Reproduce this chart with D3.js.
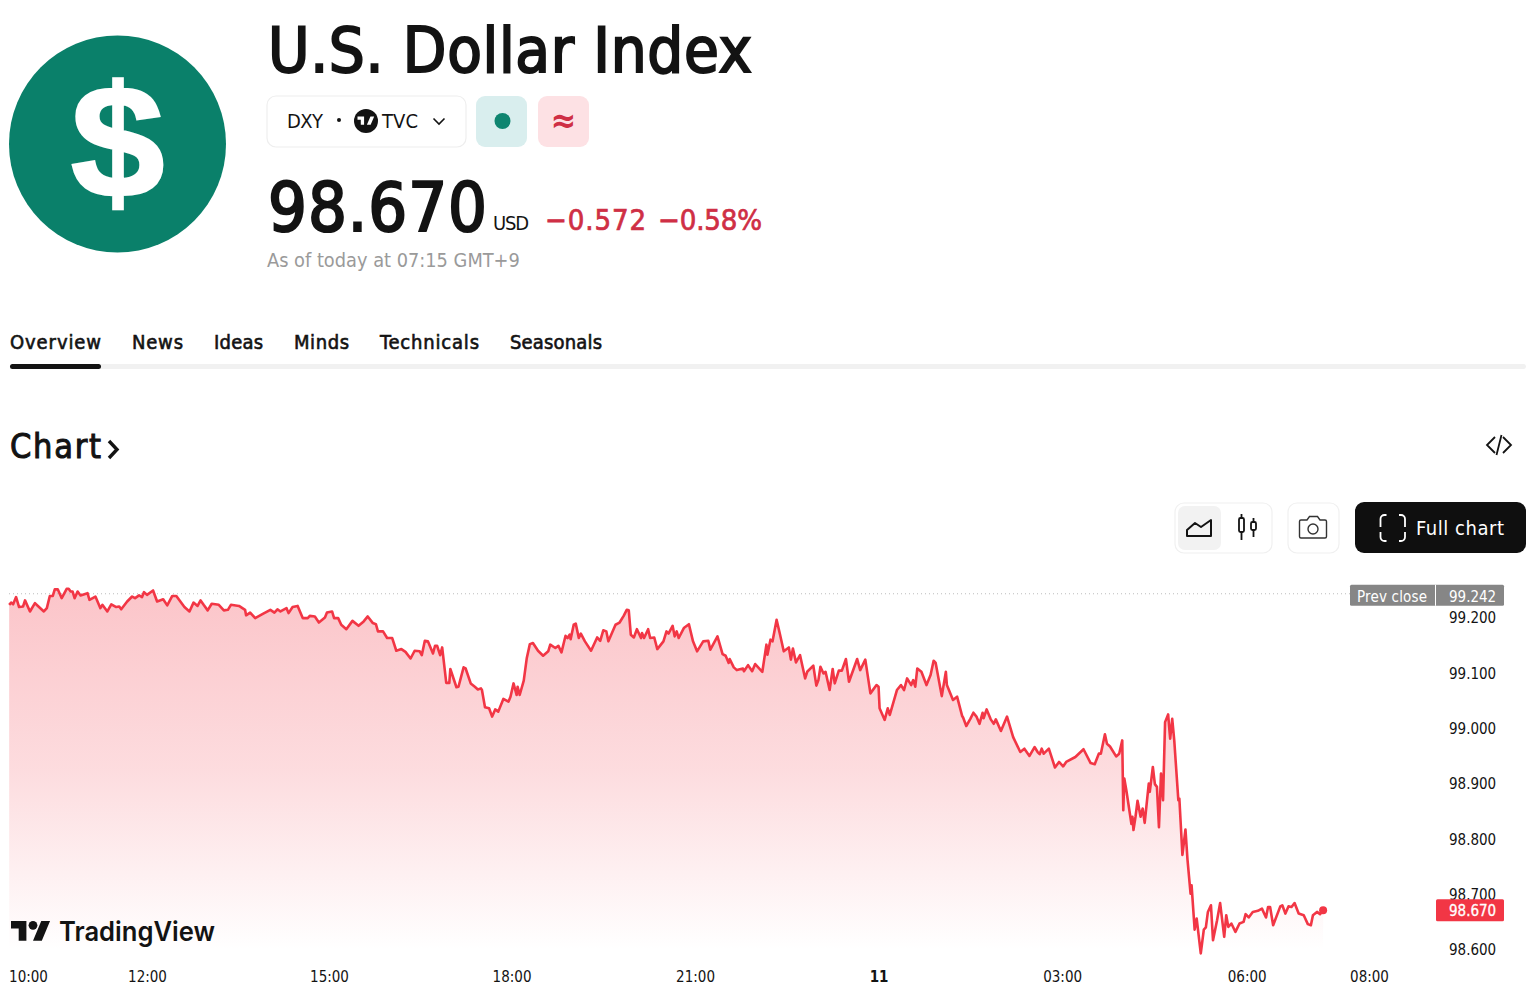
<!DOCTYPE html>
<html>
<head>
<meta charset="utf-8">
<script src="https://d3js.org/d3.v7.min.js"></script>
<style>
html, body { margin: 0; background: #fff; }
svg { display: block; }
text { font-family: "DejaVu Sans Condensed", "DejaVu Sans", sans-serif; font-stretch: condensed; }
</style>
</head>
<body>
<svg width="1536" height="1000"></svg>
<script>
// minutes after 10:00
const minutes = [-19,-17,-15,-12,-9,-5,-3,2,7,10,16,19,22,25,27,30,34,39,41,43,45,47,50,53,60,62,68,73,75,80,84,89,92,94,100,105,108,112,115,117,120,126,130,136,140,145,149,157,162,166,170,173,176,180,184,191,196,200,203,211,217,218,222,227,235,242,246,249,252,258,260,264,269,274,279,281,286,290,296,298,303,305,309,312,317,323,329,334,338,343,346,348,353,357,362,366,371,375,380,384,389,391,394,397,402,404,406,409,411,415,418,419,425,427,432,434,439,443,446,449,
450,453,457,460,463,466,471,476,478,481,484,485,487,491,494,497,500,505,510,515,517,522,525,528,532,534,536,537,540,542,545,547,551,557,563,566,569,572,574,581,585,589,592,594,596,599,602,606,607,609,613,615,619,622,628,631,633,637,639,641,643,648,653,657,661,667,672,674,681,686,689,692,693,697,700,706,707,711,715,718,725,729,730,733,735,739,742,746,751,753,755,758,762,767,769,775,778,780,782,785,787,791,794,796,800,803,807,810,818,821,826,831,837,839,840,845,848,850,857,861,864,867,871,873,875,877,881,886,890,893,895,901,905,906,912,916,921,
922,925,929,932,935,938,941,942,945,949,952,954,959,965,971,978,982,987,992,995,997,999,1001,1006,1012,1016,1020,1023,1032,1040,1047,1051,1055,1057,1061,1063,1066,1072,1075,1078,1079,1080,1082,1087,1088,1089,1091,1093,1096,1098,1100,1104,1105,1108,1110,1112,1114,1116,1118,1120,1123,1124,1125,1127,1129,1133,1134,1137,1140,1142,1145,1146,1149,1151,1155,1158,1160,1162,1165,1167,1171,1174,1178,1180,1182,1185,1189,1193,1197,1199,1202,1206,1211,1215,1219,1221,1223,1226,1233,1235,1238,1241,1244,1247,1251,1256,1260,1263,1265,1269,1272,1275]
const prices = [99.222,99.226,99.223,99.236,99.218,99.219,99.230,99.210,99.225,99.220,99.210,99.216,99.238,99.238,99.250,99.250,99.234,99.251,99.251,99.246,99.246,99.234,99.246,99.239,99.243,99.231,99.237,99.216,99.222,99.210,99.223,99.218,99.219,99.214,99.228,99.237,99.234,99.239,99.236,99.245,99.240,99.248,99.228,99.232,99.221,99.238,99.238,99.218,99.210,99.226,99.220,99.230,99.222,99.212,99.224,99.222,99.212,99.213,99.222,99.220,99.213,99.203,99.208,99.198,99.206,99.213,99.208,99.214,99.210,99.216,99.207,99.218,99.220,99.198,99.198,99.202,99.201,99.190,99.199,99.208,99.210,99.198,99.198,99.186,99.178,99.193,99.184,99.192,99.201,99.189,99.187,99.174,99.174,99.162,99.162,99.139,99.142,99.137,99.125,99.139,99.138,99.131,99.157,99.156,99.134,99.148,99.148,99.131,99.145,99.081,99.081,99.106,99.073,99.074,99.109,99.107,99.080,99.074,99.069,99.071,
99.068,99.037,99.035,99.020,99.033,99.029,99.052,99.047,99.056,99.080,99.059,99.074,99.059,99.085,99.126,99.151,99.153,99.139,99.130,99.138,99.150,99.144,99.148,99.136,99.166,99.162,99.168,99.160,99.186,99.188,99.162,99.170,99.156,99.139,99.163,99.157,99.176,99.174,99.156,99.186,99.190,99.202,99.213,99.212,99.168,99.163,99.178,99.162,99.171,99.162,99.178,99.162,99.163,99.142,99.156,99.174,99.170,99.184,99.165,99.174,99.162,99.180,99.187,99.156,99.138,99.156,99.157,99.141,99.165,99.133,99.130,99.117,99.124,99.109,99.104,99.107,99.102,99.113,99.102,99.115,99.101,99.150,99.132,99.159,99.156,99.195,99.171,99.138,99.145,99.123,99.143,99.118,99.131,99.089,99.101,99.112,99.076,99.086,99.110,99.098,99.101,99.068,99.106,99.080,99.103,99.103,99.124,99.083,99.124,99.104,99.123,99.062,99.077,99.074,99.035,99.014,99.035,99.023,99.068,99.077,99.068,99.089,99.077,99.086,99.074,99.107,99.101,99.077,99.095,99.121,99.117,99.057,99.101,99.077,99.050,99.056,99.021,
99.018,99.003,99.016,99.027,99.020,99.007,99.027,99.017,99.033,99.015,99.007,99.015,98.994,99.020,98.983,98.956,98.962,98.949,98.965,98.956,98.952,98.962,98.953,98.962,98.928,98.938,98.930,98.938,98.947,98.961,98.936,98.934,98.953,98.953,98.988,98.971,98.966,98.948,98.953,98.977,98.851,98.908,98.887,98.826,98.839,98.815,98.839,98.868,98.839,98.854,98.828,98.899,98.884,98.929,98.898,98.893,98.820,98.917,98.869,99.010,99.024,99.001,98.980,99.016,98.977,98.869,98.872,98.770,98.816,98.761,98.700,98.715,98.635,98.655,98.592,98.635,98.639,98.667,98.679,98.616,98.652,98.683,98.622,98.661,98.640,98.646,98.631,98.646,98.649,98.663,98.657,98.667,98.669,98.673,98.657,98.676,98.676,98.643,98.677,98.679,98.664,98.677,98.676,98.683,98.664,98.661,98.645,98.643,98.661,98.667,98.663,98.670]

const priceTicks = [98.6, 98.7, 98.8, 98.9, 99.0, 99.1, 99.2]
const timeTicks = [0, 120, 300, 480, 660, 840, 1020, 1200, 1320]
const timeLabels = ["10:00", "12:00", "15:00", "18:00", "21:00", "11", "03:00", "06:00", "08:00"]
const prevClose = 99.242
const lastPrice = 98.670
const tabs = ["Overview", "News", "Ideas", "Minds", "Technicals", "Seasonals"]
const tabX = [10, 132, 214, 294, 380, 510]
const tabWidth = [91, 51, 49, 55, 99, 92]

const lineRed = "#f23645"
const textRed = "#cf2f45"
const ink = "#131313"

const svg = d3.select("svg")

const x = d3.scaleLinear().domain([0, 120, 300, 1320]).range([28, 147, 329, 1369])
const y = d3.scaleLinear().domain([98.6, 99.2]).range([949, 617])
const points = minutes.map(function (m, i) { return [m, prices[i]] })

function label(txt, px, py, size, color, weight, anchor) {
    return svg.append("text").attr("x", px).attr("y", py).text(txt)
        .attr("font-size", size).attr("fill", color)
        .attr("font-weight", weight || 400)
        .attr("text-anchor", anchor || "start")
}

// ---- header ----
svg.append("circle").attr("cx", 117.5).attr("cy", 144).attr("r", 108.5).attr("fill", "#0a806a")
svg.append("text").attr("transform", "translate(117.5,197) scale(1.06,1)").text("$")
    .attr("text-anchor", "middle").attr("font-size", 159).attr("fill", "#fff")
    .attr("stroke", "#fff").attr("stroke-width", 2.5)
    .attr("font-weight", 700).style("font-family", "'Liberation Sans'").style("font-stretch", "normal")

label("U.S. Dollar Index", 268, 72, 63, ink).attr("stroke", ink).attr("stroke-width", 2)
    .attr("textLength", 484)

svg.append("rect").attr("x", 267).attr("y", 96).attr("width", 199).attr("height", 51).attr("rx", 9)
    .attr("fill", "#fff").attr("stroke", "#eeeeee").attr("stroke-width", 1.2)
label("DXY", 287, 128, 20, ink).attr("textLength", 36)
svg.append("circle").attr("cx", 339).attr("cy", 120).attr("r", 2).attr("fill", ink)
svg.append("circle").attr("cx", 366).attr("cy", 121).attr("r", 12).attr("fill", ink)
svg.append("g").attr("transform", "translate(357.5,114.5) scale(0.47)")
    .append("path").attr("d", "M14 22H7V11H0V4h14v18zM28 22h-8l7.5-18h8L28 22z").attr("fill", "#fff")
label("TVC", 382, 128, 20, ink).attr("textLength", 36)
svg.append("path").attr("d", "M433.5 118.5l5.5 5.5 5.5-5.5").attr("fill", "none").attr("stroke", ink).attr("stroke-width", 1.6)

svg.append("rect").attr("x", 476).attr("y", 96).attr("width", 51).attr("height", 51).attr("rx", 9).attr("fill", "#d9eeee")
svg.append("circle").attr("cx", 502.5).attr("cy", 121).attr("r", 8).attr("fill", "#0f8570")
svg.append("rect").attr("x", 538).attr("y", 96).attr("width", 51).attr("height", 51).attr("rx", 9).attr("fill", "#fde1e4")
label("≈", 563.5, 132, 34, textRed, 700, "middle")

label("98.670", 268, 231, 68, ink).attr("stroke", ink).attr("stroke-width", 2.2).attr("textLength", 219)
label("USD", 493, 230, 20, ink).attr("textLength", 36)
label("−0.572", 545, 230, 29, textRed).attr("stroke", textRed).attr("stroke-width", 0.7).attr("textLength", 101)
label("−0.58%", 658, 230, 29, textRed).attr("stroke", textRed).attr("stroke-width", 0.7).attr("textLength", 104)
label("As of today at 07:15 GMT+9", 267, 267, 19.8, "#9a9a9a")

// ---- tabs ----
svg.selectAll(".tab").data(tabs).enter().append("text").attr("class", "tab")
    .attr("x", function (d, i) { return tabX[i] })
    .attr("y", 349)
    .attr("font-size", 20)
    .attr("fill", ink)
    .attr("stroke", ink)
    .attr("stroke-width", 0.6)
    .attr("textLength", function (d, i) { return tabWidth[i] })
    .text(function (d) { return d })
svg.append("rect").attr("x", 10).attr("y", 364).attr("width", 1516).attr("height", 5).attr("rx", 2.5).attr("fill", "#f1f1f1")
svg.append("rect").attr("x", 10).attr("y", 364).attr("width", 91).attr("height", 5).attr("rx", 2.5).attr("fill", ink)

label("Chart", 10, 458, 34, ink).attr("stroke", ink).attr("stroke-width", 1).attr("textLength", 91)
svg.append("path").attr("d", "M109 441l8 8.5-8 8.5").attr("fill", "none").attr("stroke", ink).attr("stroke-width", 3.4)
svg.append("path").attr("d", "M1495 437l-8 8 8 8M1503 437l8 8-8 8M1501.5 435l-5 20").attr("fill", "none").attr("stroke", ink).attr("stroke-width", 1.8)

// ---- chart buttons ----
svg.append("rect").attr("x", 1175).attr("y", 503).attr("width", 97).attr("height", 50).attr("rx", 9).attr("fill", "#fff").attr("stroke", "#f0f0f0").attr("stroke-width", 1.2)
svg.append("rect").attr("x", 1178).attr("y", 506).attr("width", 43).attr("height", 44).attr("rx", 7).attr("fill", "#f2f2f2")
svg.append("path").attr("d", "M1187 536v-6l8-7 6 4 10-7v16z").attr("fill", "none").attr("stroke", ink).attr("stroke-width", 2).attr("stroke-linejoin", "round")
svg.append("path").attr("d", "M1241.5 514v26M1253.5 518v19").attr("stroke", ink).attr("stroke-width", 1.8)
svg.append("rect").attr("x", 1239).attr("y", 518).attr("width", 5).attr("height", 14).attr("rx", 1.5).attr("fill", "#fff").attr("stroke", ink).attr("stroke-width", 1.8)
svg.append("rect").attr("x", 1251).attr("y", 522).attr("width", 5).attr("height", 8).attr("rx", 1.5).attr("fill", "#fff").attr("stroke", ink).attr("stroke-width", 1.8)
svg.append("rect").attr("x", 1288).attr("y", 503).attr("width", 51).attr("height", 50).attr("rx", 9).attr("fill", "#fff").attr("stroke", "#f0f0f0").attr("stroke-width", 1.2)
svg.append("path").attr("d", "M1301 520h6l2.5-3.5h8l2.5 3.5h5a1.5 1.5 0 0 1 1.5 1.5v15a1.5 1.5 0 0 1-1.5 1.5h-24a1.5 1.5 0 0 1-1.5-1.5v-15a1.5 1.5 0 0 1 1.5-1.5z").attr("fill", "none").attr("stroke", "#333").attr("stroke-width", 1.4)
svg.append("circle").attr("cx", 1313).attr("cy", 529).attr("r", 5).attr("fill", "none").attr("stroke", "#333").attr("stroke-width", 1.4)
svg.append("rect").attr("x", 1355).attr("y", 502).attr("width", 171).attr("height", 51).attr("rx", 9).attr("fill", "#0f0f0f")
svg.append("path").attr("d", "M1380.5 527v-8a4 4 0 0 1 4-4h2M1399 515h2a4 4 0 0 1 4 4v8M1380.5 532v5a4 4 0 0 0 4 4h2M1399 541h2a4 4 0 0 0 4-4v-5")
    .attr("fill", "none").attr("stroke", "#fff").attr("stroke-width", 1.8)
label("Full chart", 1416, 535, 20, "#fff").attr("textLength", 88)

// ---- area and line ----
const gradient = svg.append("defs").append("linearGradient").attr("id", "areaFill")
    .attr("gradientUnits", "userSpaceOnUse")
    .attr("x1", 0).attr("x2", 0).attr("y1", y(d3.max(prices))).attr("y2", 950)
gradient.append("stop").attr("offset", "0%").attr("stop-color", lineRed).attr("stop-opacity", 0.29)
gradient.append("stop").attr("offset", "50%").attr("stop-color", lineRed).attr("stop-opacity", 0.175)
gradient.append("stop").attr("offset", "100%").attr("stop-color", lineRed).attr("stop-opacity", 0)

const area = d3.area().x(function (d) { return x(d[0]) }).y0(950).y1(function (d) { return y(d[1]) })
const line = d3.line().x(function (d) { return x(d[0]) }).y(function (d) { return y(d[1]) })

svg.append("path").datum(points).attr("d", area).attr("fill", "url(#areaFill)")

svg.append("line").attr("x1", 9).attr("x2", 1350).attr("y1", y(prevClose)).attr("y2", y(prevClose))
    .attr("stroke", "#bdbdbd").attr("stroke-width", 1).attr("stroke-dasharray", "1 3")

svg.append("path").datum(points).attr("d", line).attr("fill", "none")
    .attr("stroke", lineRed).attr("stroke-width", 2.6).attr("stroke-linejoin", "round")
svg.append("circle").attr("cx", x(minutes[minutes.length - 1])).attr("cy", y(lastPrice)).attr("r", 4).attr("fill", lineRed)

// ---- axes ----
const yAxis = svg.append("g").attr("transform", "translate(1449,1)")
    .call(d3.axisRight(y).tickValues(priceTicks).tickSize(0).tickPadding(0).tickFormat(d3.format(".3f")))
yAxis.select(".domain").remove()
yAxis.selectAll("text").attr("font-size", 15).attr("fill", ink).style("font-family", null)

const xAxis = svg.append("g").attr("transform", "translate(0,971)")
    .call(d3.axisBottom(x).tickValues(timeTicks).tickSize(0).tickPadding(0)
        .tickFormat(function (d, i) { return timeLabels[i] }))
xAxis.select(".domain").remove()
xAxis.selectAll("text").attr("font-size", 15).attr("fill", ink).style("font-family", null)
    .attr("dx", function (d) { return d >= 480 && d <= 1020 ? -1 : 0 })
xAxis.selectAll("text").filter(function (d) { return d == 840 }).attr("font-weight", 700)

// ---- price badges ----
svg.append("rect").attr("x", 1350).attr("y", y(prevClose) - 9).attr("width", 154).attr("height", 21).attr("rx", 1.5).attr("fill", "#868686")
svg.append("line").attr("x1", 1435.5).attr("x2", 1435.5).attr("y1", y(prevClose) - 9).attr("y2", y(prevClose) + 12).attr("stroke", "#fff")
label("Prev close", 1357, y(prevClose) + 8, 15, "#fff").attr("textLength", 70)
label(d3.format(".3f")(prevClose), 1449, y(prevClose) + 8, 15, "#fff")
svg.append("rect").attr("x", 1436).attr("y", y(lastPrice) - 11).attr("width", 68).attr("height", 22).attr("rx", 1.5).attr("fill", lineRed)
label(d3.format(".3f")(lastPrice), 1449, y(lastPrice) + 6, 15, "#fff").attr("stroke", "#fff").attr("stroke-width", 0.3)

// ---- watermark ----
svg.append("g").attr("transform", "translate(11,916.5) scale(1.1)")
    .call(function (g) {
        g.append("path").attr("d", "M14 22H7V11H0V4h14v18zM28 22h-8l7.5-18h8L28 22z").attr("fill", ink)
        g.append("circle").attr("cx", 20).attr("cy", 8).attr("r", 4).attr("fill", ink)
    })
svg.append("text").attr("x", 59).attr("y", 941).text("TradingView")
    .attr("font-size", 27).attr("font-weight", 600).attr("fill", ink)
    .attr("textLength", 156).attr("lengthAdjust", "spacingAndGlyphs")
    .style("font-family", "Inter").style("font-stretch", "normal")
</script>
</body>
</html>
